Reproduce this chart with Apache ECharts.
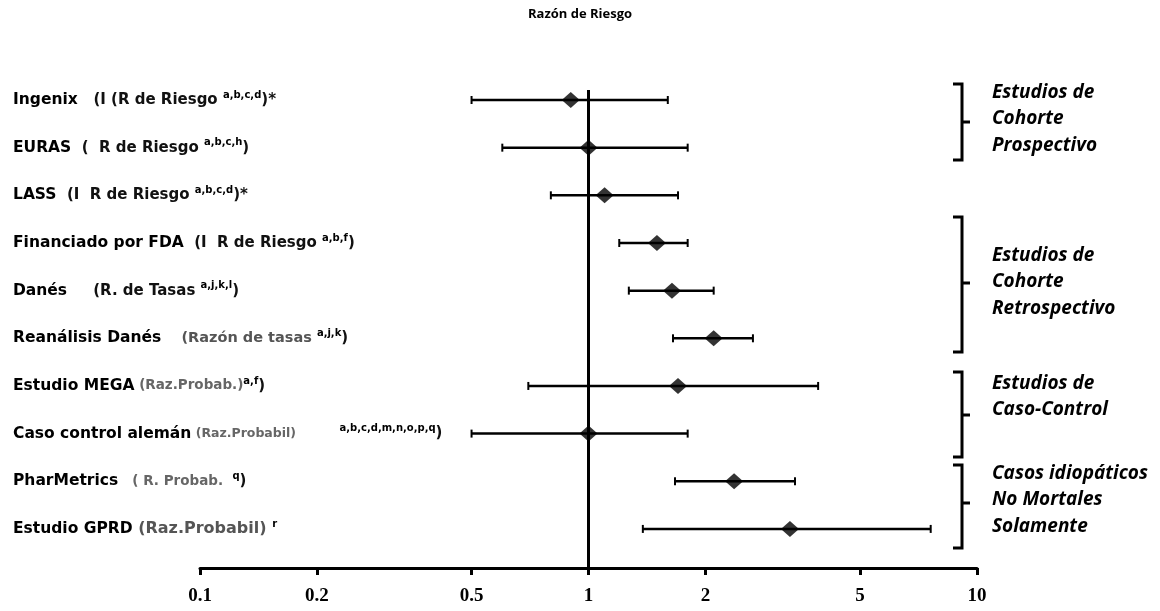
<!DOCTYPE html>
<html>
<head>
<meta charset="utf-8">
<script src="https://cdn.jsdelivr.net/npm/echarts@6/dist/echarts.min.js"></script>
<style>
html,body{margin:0;padding:0;background:#fff;}
#chart{width:1160px;height:611px;}
</style>
</head>
<body>
<div id="chart"></div>
<script>
// ---- data ----
const studyNames = ["Ingenix", "EURAS", "LASS", "Financiado por FDA", "Danés", "Reanálisis Danés", "Estudio MEGA", "Caso control alemán", "PharMetrics", "Estudio GPRD"];
const measureLabels = ["(I (R de Riesgo", "(  R de Riesgo", "(I  R de Riesgo", "(I  R de Riesgo", "(R. de Tasas", "(Razón de tasas", "(Raz.Probab.)", "(Raz.Probabil)", "( R. Probab.", "(Raz.Probabil)"];
const noteRefs = ["a,b,c,d", "a,b,c,h", "a,b,c,d", "a,b,f", "a,j,k,l", "a,j,k", "a,f", "a,b,c,d,m,n,o,p,q", "q", "r"];
const noteTails = [")*", ")", ")*", ")", ")", ")", ")", ")", ")", ""];
const estimates = [0.9, 1.0, 1.1, 1.5, 1.64, 2.1, 1.7, 1.0, 2.37, 3.3];
const lowerCI = [0.5, 0.6, 0.8, 1.2, 1.27, 1.65, 0.7, 0.5, 1.67, 1.38];
const upperCI = [1.6, 1.8, 1.7, 1.8, 2.1, 2.65, 3.9, 1.8, 3.4, 7.6];
const xTicks = [0.1, 0.2, 0.5, 1, 2, 5, 10];
const groupTitles = ["Estudios de\nCohorte\nProspectivo", "Estudios de\nCohorte\nRetrospectivo", "Estudios de\nCaso-Control", "Casos idiopáticos\nNo Mortales\nSolamente"];
const titleText = "Razón de Riesgo";

// ---- label styling (per row) ----
const rowIdx = studyNames.map((_, i) => i);
const nameGaps = ["   ", "  ", "  ", "  ", "     ", "    ", " ", " ", "   ", " "];
const noteGaps = [" ", " ", " ", " ", " ", " ", "", "          ", "  ", " "];
const measureStyle = ["mb", "mb", "mb", "mb", "mb", "mg", "mm", "ms", "mm", "mL"];
const chart = echarts.init(document.getElementById('chart'), null, {renderer: 'canvas'});

function bracket(top, bottom, mid) {
  return {
    type: 'group',
    children: [
      {type: 'polyline', shape: {points: [[953, top], [962, top], [962, bottom], [953, bottom]]},
       style: {stroke: '#000', lineWidth: 3, fill: null}},
      {type: 'line', shape: {x1: 962, y1: mid, x2: 970, y2: mid}, style: {stroke: '#000', lineWidth: 3}}
    ]
  };
}
function groupText(txt, top) {
  return {type: 'text', left: 992, top: top,
    style: {text: txt, font: 'italic bold 19px "Open Sans"', fill: '#000', lineHeight: 26.5}};
}

const LF = 'DejaVu Sans';
const option = {
  backgroundColor: '#fff',
  animation: false,
  title: {
    text: titleText, left: 'center', top: 3,
    textStyle: {fontFamily: 'Open Sans', fontWeight: 'bold', fontSize: 13, color: '#000'}
  },
  grid: {left: 200, right: 183, top: 90, bottom: 43, containLabel: false},
  xAxis: {
    type: 'log', logBase: 10, min: 0.1, max: 10, position: 'bottom',
    splitLine: {show: false},
    axisLine: {show: true, onZero: false, lineStyle: {color: '#000', width: 3}},
    axisTick: {show: true, customValues: xTicks, length: 7, lineStyle: {color: '#000', width: 3}},
    minorTick: {show: false},
    axisLabel: {
      customValues: xTicks, margin: 19,
      fontFamily: 'Liberation Serif', fontWeight: 'bold', fontSize: 19, color: '#000',
      formatter: v => String(v)
    }
  },
  yAxis: {
    type: 'value', inverse: true, min: -0.21, max: 9.82,
    splitLine: {show: false},
    axisLine: {show: false}, axisTick: {show: false},
    axisLabel: {
      customValues: rowIdx, align: 'left', margin: 187,
      formatter: v => {
        const i = Math.round(v);
        const ms = measureStyle[i];
        return '{n|' + studyNames[i] + '}{' + ms + '|' + nameGaps[i] + measureLabels[i] + noteGaps[i] + '}{s|' + noteRefs[i] + '}{mb|' + noteTails[i] + '}';
      },
      rich: {
        n: {fontFamily: LF, fontWeight: 'bold', fontSize: 15.5, color: '#000'},
        mb: {fontFamily: LF, fontWeight: 'bold', fontSize: 15, color: '#111'},
        mg: {fontFamily: LF, fontWeight: 'bold', fontSize: 14.5, color: '#555'},
        mm: {fontFamily: LF, fontWeight: 'bold', fontSize: 13.5, color: '#666'},
        ms: {fontFamily: LF, fontWeight: 'bold', fontSize: 12.5, color: '#666'},
        mL: {fontFamily: LF, fontWeight: 'bold', fontSize: 16, color: '#555'},
        s: {fontFamily: LF, fontWeight: 'bold', fontSize: 10, color: '#000', verticalAlign: 'top', padding: [0, 0, 10, 0]}
      }
    }
  },
  series: [
    {
      type: 'custom',
      data: rowIdx.map(i => [lowerCI[i], upperCI[i], i]),
      encode: {x: [0, 1], y: 2},
      renderItem: (params, api) => {
        const p1 = api.coord([api.value(0), api.value(2)]);
        const p2 = api.coord([api.value(1), api.value(2)]);
        const h = 4;
        return {type: 'group', children: [
          {type: 'line', shape: {x1: p1[0], y1: p1[1], x2: p2[0], y2: p2[1]}, style: {stroke: '#000', lineWidth: 2.5}},
          {type: 'line', shape: {x1: p1[0], y1: p1[1] - h, x2: p1[0], y2: p1[1] + h}, style: {stroke: '#000', lineWidth: 2}},
          {type: 'line', shape: {x1: p2[0], y1: p2[1] - h, x2: p2[0], y2: p2[1] + h}, style: {stroke: '#000', lineWidth: 2}}
        ]};
      },
      z: 2
    },
    {
      type: 'scatter',
      data: rowIdx.map(i => [estimates[i], i]),
      symbol: 'diamond', symbolSize: [18, 16],
      itemStyle: {color: '#000'},
      z: 3,
      markLine: {
        silent: true, symbol: 'none', label: {show: false},
        lineStyle: {color: '#000', width: 3, type: 'solid'},
        data: [{xAxis: 1}]
      }
    }
  ],
  graphic: [
    bracket(84, 160, 122),
    bracket(217, 352, 283),
    bracket(372, 457, 415),
    bracket(465, 548, 503),
    groupText(groupTitles[0], 79),
    groupText(groupTitles[1], 242),
    groupText(groupTitles[2], 370),
    groupText(groupTitles[3], 460)
  ]
};
chart.setOption(option);
</script>
</body>
</html>
